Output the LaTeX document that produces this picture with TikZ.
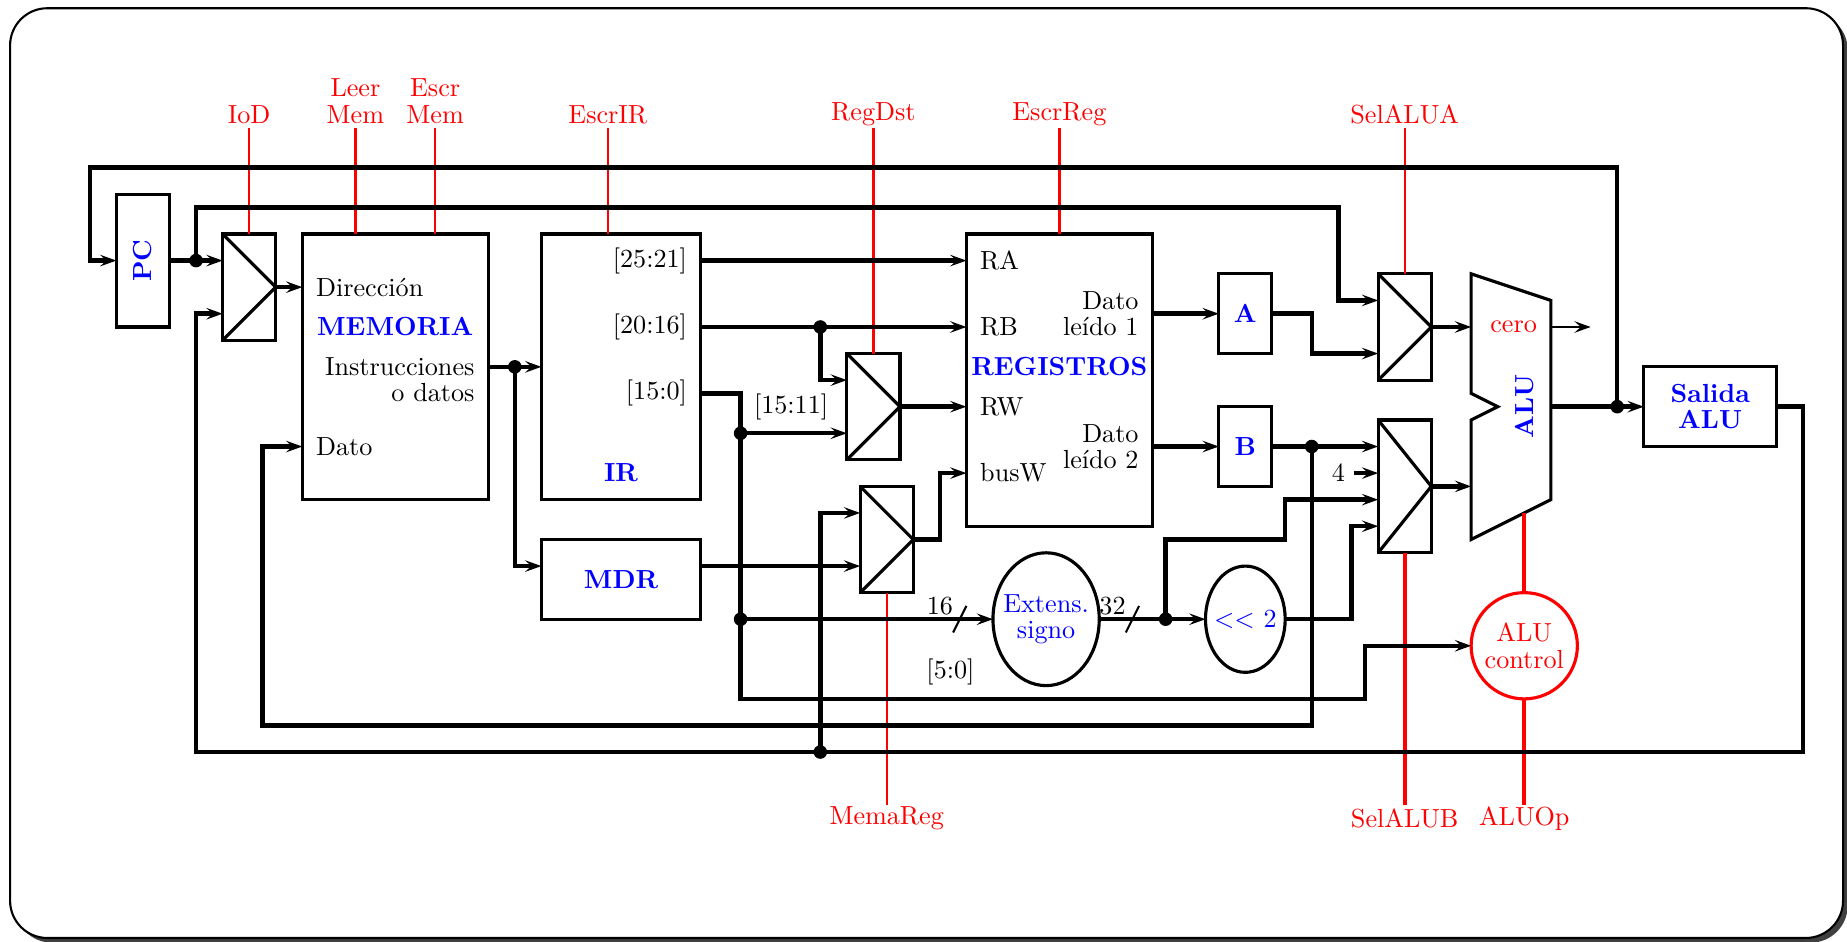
\documentclass[tikz,border=0pt]{standalone}
\usetikzlibrary{arrows.meta,shapes.geometric,shadows}
\newcommand{\letra}{\fontsize{10}{10}\selectfont}
\tikzset{
  marco/.style={draw, thick, fill=white, rounded corners=5mm, inner sep=0pt, outer sep=0pt,
    minimum width=69*3.57mm, minimum height=35*3.57mm,
    drop shadow={shadow xshift=1.8pt, shadow yshift=-1.8pt, fill=black!75, opacity=1}},
  bloque/.style n args={2}{draw, very thick, inner sep=0pt, outer sep=0pt,
    minimum width=#1*3.57mm, minimum height=#2*3.57mm},
  mux/.style n args={2}{bloque={#1}{#2}},
  ovalo/.style n args={2}{bloque={#1}{#2}, ellipse},
  rotulo/.style={inner sep=0pt},
  titulo/.style={text=blue, font=\letra\bfseries},
  control/.style={text=red, align=center, inner sep=0pt, minimum height=10pt},
  control2/.style={control, minimum height=20pt},
  senal/.style={red, line width=0.9pt},
  senalg/.style={red, line width=1.4pt},
  punta/.style={-{Stealth[length=6.2pt, width=4.4pt, inset=2.4pt]}},
  flecha/.style={line width=1.7pt, punta},
  punto/.style={circle, fill, inner sep=0pt, minimum size=5.2pt}
}
\begin{document}
\begin{tikzpicture}[x=3.57mm, y=-3.57mm, font=\letra]
  \useasboundingbox (-0.38,-0.31) rectangle +(69.53,35.46);
  \node[marco] (marco) at (34.5,17.5) {};

  % bloques
  \node[bloque={2}{5}] (pc) at (5,9.5) {};
  \node[titulo, rotate=90] (tpc) at (pc) {PC};
  \node[mux={2}{4}] (mIoD) at (9,10.5) {};
  \node[bloque={7}{10}] (mem) at (14.5,13.5) {};
  \node[bloque={6}{10}] (ir) at (23,13.5) {};
  \node[bloque={6}{3}, titulo] (mdr) at (23,21.5) {MDR};
  \node[mux={2}{4}] (mRegDst) at (32.5,15) {};
  \node[mux={2}{4}] (mMemaReg) at (33,20) {};
  \node[bloque={7}{11}] (regs) at (39.5,14) {};
  \node[bloque={2}{3}, titulo] (a) at (46.5,11.5) {A};
  \node[bloque={2}{3}, titulo] (b) at (46.5,16.5) {B};
  \node[mux={2}{4}] (mSelA) at (52.5,12) {};
  \node[mux={2}{5}] (mSelB) at (52.5,18) {};
  \node[bloque={5}{3}, titulo, align=center] (salida) at (64,15) {Salida\\ALU};
  \node[ovalo={4}{5}] (ext) at (39,23) {};
  \node[ovalo={3}{4}] (shift) at (46.5,23) {};
  \node[ovalo={4}{4}, draw=red] (ctrl) at (57,24) {};
  \node[text=blue, align=center] (text) at (ext) {Extens.\\signo};
  \node[text=blue] (tshift) at (shift) {$<<$ 2};
  \node[text=red, align=center] (tctrl) at (ctrl) {ALU\\control};
  \draw[very thick] (55,10) -- (58,11) -- (58,18.5) -- (55,20) -- (55,15.5) -- (56,15) -- (55,14.5) -- cycle;
  \foreach \m in {mIoD, mRegDst, mMemaReg, mSelA, mSelB}
    \draw[very thick] (\m.north west) -- (\m.east) -- (\m.south west);

  % textos
  \node[rotulo, anchor=west] (dir) at (11.5,10.5) {Dirección};
  \node[titulo] (tmem) at (14.5,12) {MEMORIA};
  \node[rotulo, anchor=east, align=right] (instr) at (17.5,14) {Instrucciones\\o datos};
  \node[rotulo, anchor=west] (dato) at (11.5,16.5) {Dato};
  \node[rotulo, anchor=east] (t2521) at (25.5,9.5) {[25:21]};
  \node[rotulo, anchor=east] (t2016) at (25.5,12) {[20:16]};
  \node[rotulo, anchor=east] (t150) at (25.5,14.5) {[15:0]};
  \node[titulo] (tir) at (23,17.5) {IR};
  \node (t1511) at (29.4,15) {[15:11]};
  \node[rotulo, anchor=west] (ra) at (36.5,9.5) {RA};
  \node[rotulo, anchor=west] (rb) at (36.5,12) {RB};
  \node[titulo] (treg) at (39.5,13.5) {REGISTROS};
  \node[rotulo, anchor=west] (rw) at (36.5,15) {RW};
  \node[rotulo, anchor=west] (busw) at (36.5,17.5) {busW};
  \node[rotulo, anchor=east, align=right] (dato1) at (42.5,11.5) {Dato\\leído 1};
  \node[rotulo, anchor=east, align=right] (dato2) at (42.5,16.5) {Dato\\leído 2};
  \node (n16) at (35,22.5) {16};
  \node (n32) at (41.5,22.5) {32};
  \node (t50) at (35.4,25) {[5:0]};
  \node (cuatro) at (50,17.5) {4};
  \node[text=red] (cero) at (56.6,12) {cero};
  \node[titulo, rotate=90] (talu) at (57,15) {ALU};

  % puertos
  \coordinate (iIoDb) at (8,11.5);
  \coordinate (iRegA) at (31.5,14);
  \coordinate (iRegB) at (31.5,16);
  \coordinate (iMemA) at (32,19);
  \coordinate (iMemB) at (32,21);
  \coordinate (mdrA) at (20,21);
  \coordinate (mdrB) at (26,21);
  \coordinate (iSelA1) at (51.5,11);
  \coordinate (iSelA2) at (51.5,13);
  \coordinate (iSelB1) at (51.5,16.5);
  \coordinate (iSelB2) at (51.5,17.5);
  \coordinate (iSelB3) at (51.5,18.5);
  \coordinate (iSelB4) at (51.5,19.5);
  \coordinate (aluA) at (55,12);
  \coordinate (aluB) at (55,18);
  \coordinate (aluS) at (58,15);
  \coordinate (aluC) at (58,12);
  \coordinate (aluI) at (57,19);
  \coordinate (ceroS) at (59.5,12);

  % control
  \node[control] (iod) at (9,4) {IoD};
  \node[control2] (leer) at (13,3.5) {Leer\\Mem};
  \node[control2] (escr) at (16,3.5) {Escr\\Mem};
  \node[control] (escrir) at (22.5,4) {EscrIR};
  \node[control] (regdst) at (32.5,4) {RegDst};
  \node[control] (escrreg) at (39.5,4) {EscrReg};
  \node[control] (sela) at (52.5,4) {SelALUA};
  \node[control] (memareg) at (33,30.5) {MemaReg};
  \node[control] (selb) at (52.5,30.5) {SelALUB};
  \node[control] (aluop) at (57,30.5) {ALUOp};
  \draw[senal] (iod.south) -- (mIoD.north);
  \draw[senal] (leer.south) -- (leer |- mem.north);
  \draw[senal] (escr.south) -- (escr |- mem.north);
  \draw[senal] (escrir.south) -- (escrir |- ir.north);
  \draw[senal] (regdst.south) -- (mRegDst.north);
  \draw[senal] (escrreg.south) -- (regs.north);
  \draw[senal] (sela.south) -- (mSelA.north);
  \draw[senal] (memareg.north) -- (mMemaReg.south);
  \draw[senalg] (selb.north) -- (mSelB.south);
  \draw[senalg] (aluop.north) -- (ctrl.south);
  \draw[senalg] (ctrl.north) -- (aluI);

  % uniones
  \node[punto] (dPC) at (7,9.5) {};
  \node[punto] (dMem) at (19,13.5) {};
  \node[punto] (dRb) at (30.5,12) {};
  \node[punto] (d150) at (27.5,16) {};
  \node[punto] (dExtI) at (27.5,23) {};
  \node[punto] (dExt) at (43.5,23) {};
  \node[punto] (dB) at (49,16.5) {};
  \node[punto] (dAlu) at (60.5,15) {};
  \node[punto] (dSal) at (30.5,28) {};

  % buses
  \draw[flecha] (dAlu.center) |- (3,6) |- (pc.west);
  \draw[flecha] (pc.east) -- (mIoD.west |- pc);
  \draw[flecha] (dPC.center) |- (50,7.5) |- (iSelA1);
  \draw[flecha] (salida.east) -| (67.5,28) -| (7,11.5) -- (iIoDb);
  \draw[flecha] (mIoD.east) -- (mem.west |- dir);
  \draw[flecha] (mem.east) -- (ir.west);
  \draw[flecha] (dMem.center) |- (mdrA);
  \draw[flecha] (mdrB) -- (iMemB);
  \draw[flecha] (ir.east |- t2521) -- (regs.west |- ra);
  \draw[flecha] (ir.east |- t2016) -- (regs.west |- rb);
  \draw[flecha] (dRb.center) |- (iRegA);
  \draw[flecha] (ir.east |- t150) -| (27.5,26) -| (51,24) -- (ctrl.west);
  \draw[flecha] (d150.center) -- (iRegB);
  \draw[flecha] (dExtI.center) -- (ext.west);
  \draw[flecha] (ext.east) -- (shift.west);
  \draw[flecha] (dExt.center) |- (48,20) |- (iSelB3);
  \draw[flecha] (shift.east) -| (50.5,19.5) -- (iSelB4);
  \draw[flecha] (regs.east |- a) -- (a.west);
  \draw[flecha] (regs.east |- b) -- (b.west);
  \draw[flecha] (a.east) -| (49,13) -- (iSelA2);
  \draw[flecha] (b.east) -- (iSelB1);
  \draw[flecha] (dB.center) |- (9.5,27) |- (mem.west |- dato);
  \draw[flecha] (dSal.center) |- (iMemA);
  \draw[flecha] (mMemaReg.east) -| (35,17.5) -- (regs.west |- busw);
  \draw[flecha] (mRegDst.east) -- (regs.west |- rw);
  \draw[flecha] (mSelA.east) -- (aluA);
  \draw[flecha] (mSelB.east) -- (aluB);
  \draw[flecha] (aluS) -- (salida.west);
  \draw[flecha] (cuatro.east) -- (iSelB2);
  \draw[thick, punta] (aluC) -- (ceroS);

  % anchos de bus
  \draw[thick] (35.5,23.5) -- (36,22.5);
  \draw[thick] (42,23.5) -- (42.5,22.5);
\end{tikzpicture}
\end{document}
